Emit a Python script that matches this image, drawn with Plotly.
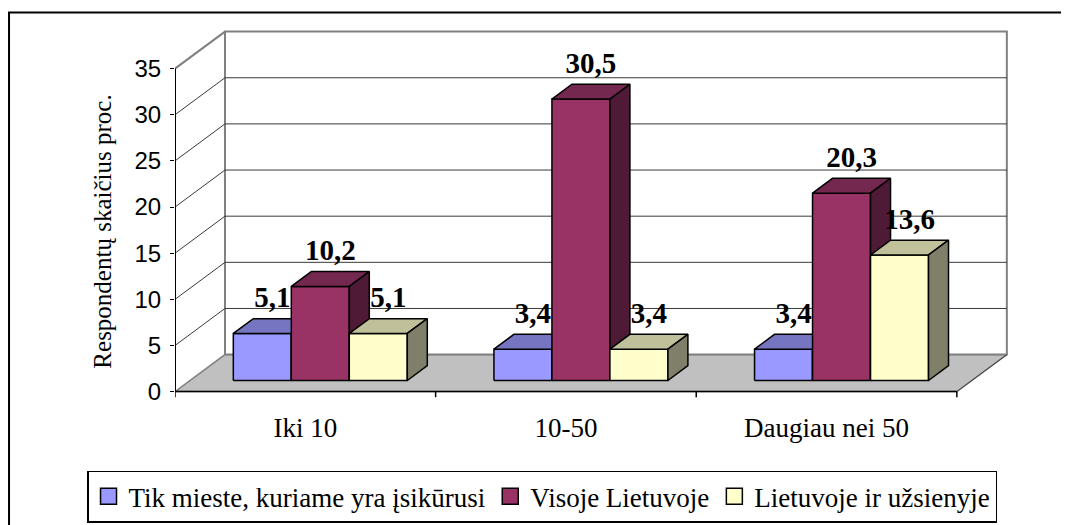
import plotly.graph_objects as go

# ---------------- data ----------------
categories = ["Iki 10", "10-50", "Daugiau nei 50"]
series_names = ["Tik mieste, kuriame yra įsikūrusi", "Visoje Lietuvoje", "Lietuvoje ir užsienyje"]
tik_mieste = [5.1, 3.4, 3.4]
visoje_lietuvoje = [10.2, 30.5, 20.3]
lietuvoje_ir_uzsienyje = [5.1, 3.4, 13.6]
y_ticks = [0, 5, 10, 15, 20, 25, 30, 35]
y_title = "Respondentų skaičius proc."

series_values = [tik_mieste, visoje_lietuvoje, lietuvoje_ir_uzsienyje]

# ---------------- styles ----------------
front_colors = ["#9999FF", "#993366", "#FFFFCC"]
top_colors = ["#7575C2", "#75284F", "#C0C09A"]
side_colors = ["#4D4D80", "#4F1A35", "#80806A"]

PAGE_OFF = 8                     # default page body margin
W, H = 1069 - PAGE_OFF, 525 - PAGE_OFF


def P(v):
    return v - PAGE_OFF


X0_PX, X3_PX = P(175.0), P(957.0)   # front-plane x of category 0 and 3
Y0_PX, Y35_PX = P(392.0), P(69.0)   # front-plane y of value 0 and 35
ppx = (X3_PX - X0_PX) / 3.0
ppy = (Y0_PX - Y35_PX) / 35.0
DX = 50.0 / ppx                  # full depth offset (x, category units)
DY = 37.0 / ppy                  # full depth offset (y, value units)
D0, D1 = 0.3, 0.7                # bar depth span
BW = 58.0 / ppx                  # bar width
X_RANGE = [0.0, 3.25]
Y_RANGE = [-0.8, 39.4]
LABEL_DY = 3.6
YMAX = y_ticks[-1]
n_cat = len(categories)

ml = X0_PX - X_RANGE[0] * ppx
mr = W - (X0_PX + X_RANGE[1] * ppx)
mt = Y0_PX - Y_RANGE[1] * ppy
mb = H - (Y0_PX - Y_RANGE[0] * ppy)
pw = W - ml - mr
ph = H - mt - mb


def px_to_paper_x(px):
    return (px - ml) / pw


def px_to_paper_y(py):
    return (H - mb - py) / ph


fig = go.Figure()


def poly(xs, ys, fill, line_color, lw):
    fig.add_trace(go.Scatter(
        x=list(xs) + [xs[0]], y=list(ys) + [ys[0]], mode="lines",
        fill="toself", fillcolor=fill,
        line=dict(color=line_color, width=lw),
        showlegend=False, hoverinfo="skip"))


def lines(xs, ys, color, lw):
    fig.add_trace(go.Scatter(x=xs, y=ys, mode="lines",
                             line=dict(color=color, width=lw),
                             showlegend=False, hoverinfo="skip"))


# floor
poly([0, n_cat, n_cat + DX, DX], [0, 0, DY, DY], "#C0C0C0", "#808080", 1.5)
# back wall
poly([DX, n_cat + DX, n_cat + DX, DX], [DY, DY, YMAX + DY, YMAX + DY], "#FFFFFF", "#808080", 2)
# left wall outline (top diagonal)
lines([0, DX], [YMAX, YMAX + DY], "#808080", 2)
# grid lines
gx, gy = [], []
for v in y_ticks[1:-1]:
    gx += [0, DX, n_cat + DX, None]
    gy += [v, v + DY, v + DY, None]
lines(gx, gy, "#3A3A3A", 1)
# floor right edge
lines([n_cat, n_cat + DX], [0, DY], "#404040", 1)
# front axis line + category ticks
tx, ty = [0, n_cat, None], [0, 0, None]
for k in range(n_cat + 1):
    tx += [k, k, None]
    ty += [0, -0.6, None]
lines(tx, ty, "#000000", 1.5)
lines([0, 0], [0, YMAX], "#000000", 2)

# bars
lab_x, lab_y, lab_t = [], [], []
for i in range(n_cat):
    start = i + 0.5 - 1.5 * BW
    for j, vals in enumerate(series_values):
        v = vals[i]
        xl = start + j * BW
        xr = xl + BW
        a0x, a0y = D0 * DX, D0 * DY
        a1x, a1y = D1 * DX, D1 * DY
        # front
        poly([xl + a0x, xr + a0x, xr + a0x, xl + a0x],
             [a0y, a0y, v + a0y, v + a0y], front_colors[j], "#000000", 1.5)
        # top
        poly([xl + a0x, xr + a0x, xr + a1x, xl + a1x],
             [v + a0y, v + a0y, v + a1y, v + a1y], top_colors[j], "#000000", 1.5)
        # side
        poly([xr + a0x, xr + a1x, xr + a1x, xr + a0x],
             [a0y, a1y, v + a1y, v + a0y], side_colors[j], "#000000", 1.5)
        lab_x.append(xl + BW / 2 + 0.5 * (D0 + D1) * DX)
        lab_y.append(v + a0y + LABEL_DY)
        lab_t.append(f"{v:.1f}".replace(".", ","))

fig.add_trace(go.Scatter(
    x=lab_x, y=lab_y, text=lab_t, mode="text", textposition="middle center",
    textfont=dict(family="Liberation Serif", size=29, color="#000000", weight="bold"),
    showlegend=False, hoverinfo="skip", cliponaxis=False))

# legend entries
for j, name in enumerate(series_names):
    fig.add_trace(go.Scatter(
        x=[None], y=[None], mode="markers", name=name,
        marker=dict(symbol="square", size=18, color=front_colors[j],
                    line=dict(color="#000000", width=1.5))))

fig.update_layout(
    width=W, height=H,
    margin=dict(l=ml, r=mr, t=mt, b=mb, autoexpand=False),
    paper_bgcolor="#FFFFFF", plot_bgcolor="#FFFFFF",
    xaxis=dict(range=X_RANGE, tickvals=[i + 0.5 for i in range(n_cat)], ticktext=categories,
               ticks="", showgrid=False, zeroline=False, showline=False,
               ticklabelstandoff=10,
               tickfont=dict(family="Liberation Serif", size=27, color="#000000"),
               fixedrange=True),
    yaxis=dict(range=Y_RANGE, tickvals=y_ticks, ticktext=[str(v) for v in y_ticks],
               ticks="outside", ticklen=4, tickwidth=1, tickcolor="#000000",
               showgrid=False, zeroline=False, showline=False,
               ticklabelstandoff=4,
               tickfont=dict(family="Liberation Sans", size=24, color="#000000"),
               fixedrange=True),
    legend=dict(orientation="h", x=px_to_paper_x(P(87)), y=px_to_paper_y(P(523)),
                xanchor="left", yanchor="bottom",
                bordercolor="#000000", borderwidth=1.5, bgcolor="#FFFFFF",
                font=dict(family="Liberation Serif", size=27, color="#000000")),
    annotations=[dict(text=y_title, textangle=-90, showarrow=False,
                      xref="paper", yref="paper",
                      x=px_to_paper_x(P(103)), y=px_to_paper_y(P(232)),
                      xanchor="center", yanchor="middle",
                      font=dict(family="Liberation Serif", size=25, color="#000000"))],
    shapes=[dict(type="rect", xref="paper", yref="paper",
                 x0=px_to_paper_x(1), x1=px_to_paper_x(W + 20),
                 y0=px_to_paper_y(H + 20), y1=px_to_paper_y(P(13)),
                 line=dict(color="#000000", width=2))],
    showlegend=True,
)

fig.write_html("out.html")
